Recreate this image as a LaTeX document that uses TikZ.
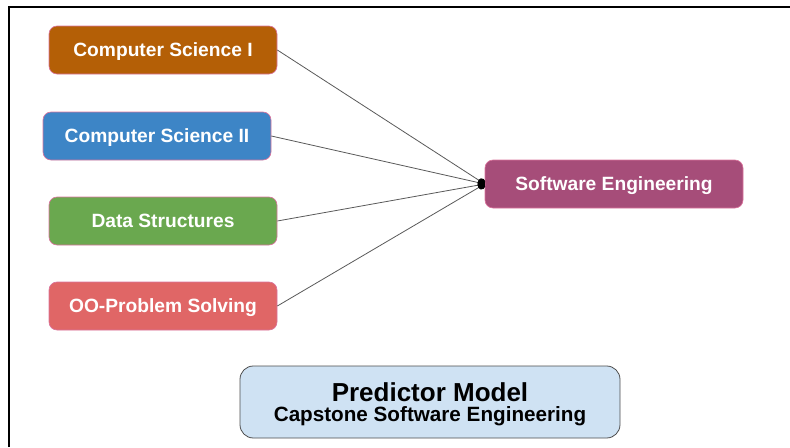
\documentclass[tikz,border=0pt]{standalone}
\usepackage{fontspec}
\setmainfont{Liberation Sans}
\usetikzlibrary{arrows.meta}

\definecolor{csone}{HTML}{B45F06}
\definecolor{cstwo}{HTML}{3D85C6}
\definecolor{dstruct}{HTML}{6AA84F}
\definecolor{oop}{HTML}{E06666}
\definecolor{softeng}{HTML}{A64D79}
\definecolor{predict}{HTML}{CFE2F3}
\definecolor{edge}{HTML}{C2185B}

\begin{document}
\begin{tikzpicture}[x = 0.75pt, y = -0.75pt,
    course/.style = {draw = edge!60, line width = 0.5pt, rounded corners = 6pt,
        minimum width = 171pt, minimum height = 36pt, text = white, text depth = 0pt,
        font = \bfseries\fontsize{14.4}{17}\selectfont},
    link/.style = {draw = black!65, line width = 0.6pt, -{Circle[length = 5.5pt, black]}}]
    \useasboundingbox (0,0) rectangle (790,447);
    \draw[line width = 1.6pt] (9,447) -- (9,7) -- (790,7);
    \node[course, fill = csone] (cs1) at (163,50) {Computer Science I};
    \node[course, fill = cstwo] (cs2) at (157,136) {Computer Science II};
    \node[course, fill = dstruct] (ds) at (163,221) {Data Structures};
    \node[course, fill = oop] (oops) at (163,306) {OO-Problem Solving};
    \node[course, fill = softeng, minimum width = 193.5pt] (se) at (614,184) {Software Engineering};
    \node[draw = black!70, fill = predict, rounded corners = 10pt, line width = 0.6pt,
        minimum width = 285pt, minimum height = 54pt, align = center, text depth = 0pt,
        font = \bfseries\fontsize{15.5}{14.5}\selectfont] (pm) at (430,402)
        {{\fontsize{19.5}{14.5}\selectfont Predictor Model}\\
         Capstone Software Engineering};
    \draw[link] (cs1.east) -- (se.west);
    \draw[link] (cs2.east) -- (se.west);
    \draw[link] (ds.east) -- (se.west);
    \draw[link] (oops.east) -- (se.west);
\end{tikzpicture}
\end{document}
